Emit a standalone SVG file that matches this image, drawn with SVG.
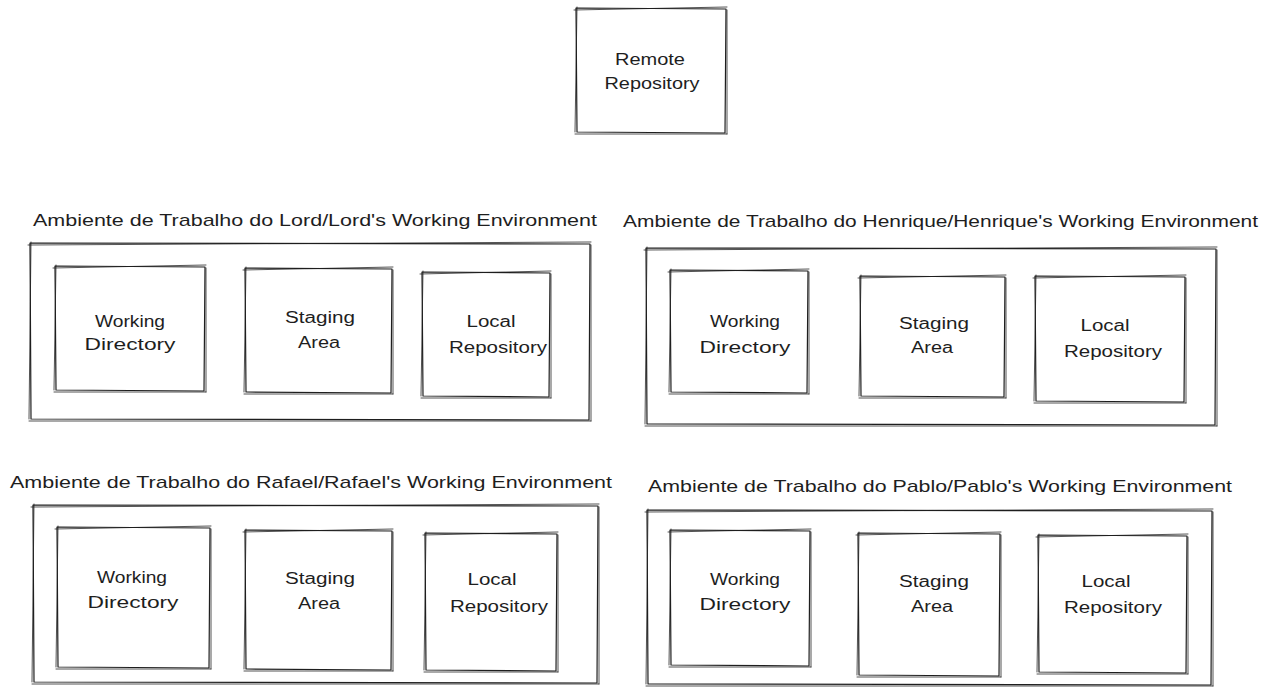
<svg xmlns="http://www.w3.org/2000/svg" width="1268" height="692" viewBox="0 0 1268 692">
<style>
.s{fill:none;stroke:#1e1e1e;stroke-width:1.2;stroke-linecap:round;stroke-linejoin:round}
.s2{fill:none;stroke:#1e1e1e;stroke-width:0.9;stroke-linecap:round;opacity:0.85}
.t{font-family:"Liberation Sans",Arial,sans-serif;font-size:16px;fill:#1e1e1e;text-anchor:middle}
.h{font-family:"Liberation Sans",Arial,sans-serif;font-size:17px;fill:#1e1e1e}
</style>
<rect width="1268" height="692" fill="#ffffff"/>
<g id="remote">
<path class="s" d="M576 8 L726 9 L725 133 L577 132 Z"/>
<path class="s2" d="M574 10 L727 7 M727 10 L727 134 M727 134 L575 134 M575 132 L577 7"/>
<text class="t" x="650" y="65" textLength="70" lengthAdjust="spacingAndGlyphs">Remote</text>
<text class="t" x="652" y="89" textLength="95" lengthAdjust="spacingAndGlyphs">Repository</text>
</g>
<g id="lord-env">
<text class="h" x="33" y="226" textLength="564" lengthAdjust="spacingAndGlyphs">Ambiente de Trabalho do Lord/Lord's Working Environment</text>
<path class="s" d="M30 243 L590 244 L589 420 L31 419 Z"/>
<path class="s2" d="M28 245 L591 242 M591 245 L591 421 M591 421 L29 421 M29 419 L31 242"/>
</g>
<g id="lord-wd">
<path class="s" d="M55 266 L205 267 L204 391 L56 390 Z"/>
<path class="s2" d="M53 268 L206 265 M206 268 L206 392 M206 392 L54 392 M54 390 L56 265"/>
<text class="t" x="130" y="327" textLength="70" lengthAdjust="spacingAndGlyphs">Working</text>
<text class="t" x="130" y="350" textLength="91" lengthAdjust="spacingAndGlyphs">Directory</text>
</g>
<g id="lord-sa">
<path class="s" d="M245 268 L392 269 L391 393 L246 392 Z"/>
<path class="s2" d="M243 270 L393 267 M393 270 L393 394 M393 394 L244 394 M244 392 L246 267"/>
<text class="t" x="320" y="323" textLength="70" lengthAdjust="spacingAndGlyphs">Staging</text>
<text class="t" x="319" y="348" textLength="42" lengthAdjust="spacingAndGlyphs">Area</text>
</g>
<g id="lord-lr">
<path class="s" d="M422 272 L550 273 L549 397 L423 396 Z"/>
<path class="s2" d="M420 274 L551 271 M551 274 L551 398 M551 398 L421 398 M421 396 L423 271"/>
<text class="t" x="491" y="327" textLength="49" lengthAdjust="spacingAndGlyphs">Local</text>
<text class="t" x="498" y="353" textLength="98" lengthAdjust="spacingAndGlyphs">Repository</text>
</g>
<g id="henrique-env">
<text class="h" x="623" y="227" textLength="635" lengthAdjust="spacingAndGlyphs">Ambiente de Trabalho do Henrique/Henrique's Working Environment</text>
<path class="s" d="M646 248 L1216 249 L1215 425 L647 424 Z"/>
<path class="s2" d="M644 250 L1217 247 M1217 250 L1217 426 M1217 426 L645 426 M645 424 L647 247"/>
</g>
<g id="henrique-wd">
<path class="s" d="M670 270 L808 271 L807 393 L671 392 Z"/>
<path class="s2" d="M668 272 L809 269 M809 272 L809 394 M809 394 L669 394 M669 392 L671 269"/>
<text class="t" x="745" y="327" textLength="70" lengthAdjust="spacingAndGlyphs">Working</text>
<text class="t" x="745" y="353" textLength="91" lengthAdjust="spacingAndGlyphs">Directory</text>
</g>
<g id="henrique-sa">
<path class="s" d="M860 276 L1005 277 L1004 397 L861 396 Z"/>
<path class="s2" d="M858 278 L1006 275 M1006 278 L1006 398 M1006 398 L859 398 M859 396 L861 275"/>
<text class="t" x="934" y="329" textLength="70" lengthAdjust="spacingAndGlyphs">Staging</text>
<text class="t" x="932" y="353" textLength="42" lengthAdjust="spacingAndGlyphs">Area</text>
</g>
<g id="henrique-lr">
<path class="s" d="M1035 276 L1185 277 L1184 402 L1036 401 Z"/>
<path class="s2" d="M1033 278 L1186 275 M1186 278 L1186 403 M1186 403 L1034 403 M1034 401 L1036 275"/>
<text class="t" x="1105" y="331" textLength="49" lengthAdjust="spacingAndGlyphs">Local</text>
<text class="t" x="1113" y="357" textLength="98" lengthAdjust="spacingAndGlyphs">Repository</text>
</g>
<g id="rafael-env">
<text class="h" x="10" y="488" textLength="602" lengthAdjust="spacingAndGlyphs">Ambiente de Trabalho do Rafael/Rafael's Working Environment</text>
<path class="s" d="M33 505 L598 506 L597 683 L34 682 Z"/>
<path class="s2" d="M31 507 L599 504 M599 507 L599 684 M599 684 L32 684 M32 682 L34 504"/>
</g>
<g id="rafael-wd">
<path class="s" d="M57 527 L210 528 L209 668 L58 667 Z"/>
<path class="s2" d="M55 529 L211 526 M211 529 L211 669 M211 669 L56 669 M56 667 L58 526"/>
<text class="t" x="132" y="583" textLength="70" lengthAdjust="spacingAndGlyphs">Working</text>
<text class="t" x="133" y="608" textLength="91" lengthAdjust="spacingAndGlyphs">Directory</text>
</g>
<g id="rafael-sa">
<path class="s" d="M245 530 L392 531 L391 670 L246 669 Z"/>
<path class="s2" d="M243 532 L393 529 M393 532 L393 671 M393 671 L244 671 M244 669 L246 529"/>
<text class="t" x="320" y="584" textLength="70" lengthAdjust="spacingAndGlyphs">Staging</text>
<text class="t" x="319" y="609" textLength="42" lengthAdjust="spacingAndGlyphs">Area</text>
</g>
<g id="rafael-lr">
<path class="s" d="M425 533 L557 534 L556 671 L426 670 Z"/>
<path class="s2" d="M423 535 L558 532 M558 535 L558 672 M558 672 L424 672 M424 670 L426 532"/>
<text class="t" x="492" y="585" textLength="49" lengthAdjust="spacingAndGlyphs">Local</text>
<text class="t" x="499" y="612" textLength="98" lengthAdjust="spacingAndGlyphs">Repository</text>
</g>
<g id="pablo-env">
<text class="h" x="648" y="492" textLength="584" lengthAdjust="spacingAndGlyphs">Ambiente de Trabalho do Pablo/Pablo's Working Environment</text>
<path class="s" d="M647 510 L1212 511 L1211 685 L648 684 Z"/>
<path class="s2" d="M645 512 L1213 509 M1213 512 L1213 686 M1213 686 L646 686 M646 684 L648 509"/>
</g>
<g id="pablo-wd">
<path class="s" d="M670 530 L810 531 L809 666 L671 665 Z"/>
<path class="s2" d="M668 532 L811 529 M811 532 L811 667 M811 667 L669 667 M669 665 L671 529"/>
<text class="t" x="745" y="585" textLength="70" lengthAdjust="spacingAndGlyphs">Working</text>
<text class="t" x="745" y="610" textLength="91" lengthAdjust="spacingAndGlyphs">Directory</text>
</g>
<g id="pablo-sa">
<path class="s" d="M858 533 L1000 534 L999 676 L859 675 Z"/>
<path class="s2" d="M856 535 L1001 532 M1001 535 L1001 677 M1001 677 L857 677 M857 675 L859 532"/>
<text class="t" x="934" y="587" textLength="70" lengthAdjust="spacingAndGlyphs">Staging</text>
<text class="t" x="932" y="612" textLength="42" lengthAdjust="spacingAndGlyphs">Area</text>
</g>
<g id="pablo-lr">
<path class="s" d="M1038 535 L1187 536 L1186 673 L1039 672 Z"/>
<path class="s2" d="M1036 537 L1188 534 M1188 537 L1188 674 M1188 674 L1037 674 M1037 672 L1039 534"/>
<text class="t" x="1106" y="587" textLength="49" lengthAdjust="spacingAndGlyphs">Local</text>
<text class="t" x="1113" y="613" textLength="98" lengthAdjust="spacingAndGlyphs">Repository</text>
</g>
<g id="connectors"></g>
</svg>
